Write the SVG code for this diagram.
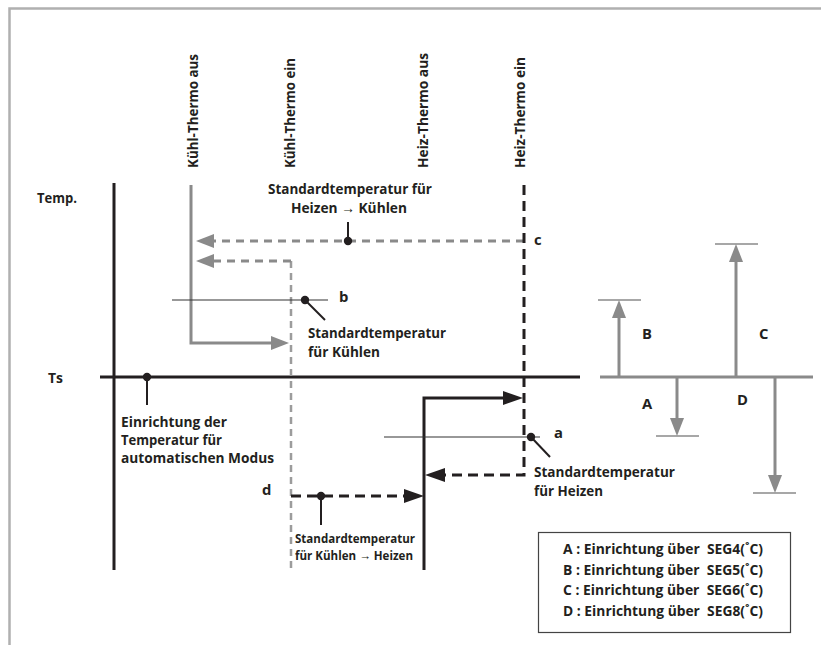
<svg xmlns="http://www.w3.org/2000/svg" width="821" height="645" viewBox="0 0 821 645">
<defs>
<style>
text{font-family:"Open Sans","Liberation Sans",sans-serif;font-weight:700;font-size:14.8px;fill:#231f20}
.sm{font-size:13px}
.md{font-size:14px}
.vt{font-size:14.8px}
.g{stroke:#8a8a8a;stroke-width:3;fill:none}
.gd{stroke:#8a8a8a;stroke-width:3;fill:none;stroke-dasharray:8 6}
.gdl{stroke:#9c9c9c;stroke-width:2.5;fill:none;stroke-dasharray:7 5}
.k{stroke:#231f20;stroke-width:3;fill:none}
.kd{stroke:#231f20;stroke-width:3;fill:none;stroke-dasharray:10 6}
.thin{stroke:#333;stroke-width:1.2;fill:none}
.lead{stroke:#231f20;stroke-width:2;fill:none}
.cap{stroke:#8a8a8a;stroke-width:1.6;fill:none}
.dot{fill:#231f20}
</style>
<marker id="ag" markerUnits="userSpaceOnUse" markerWidth="19" markerHeight="15" refX="0" refY="7" orient="auto" viewBox="0 0 19 14"><path d="M0,0 L18,7 L0,14 z" fill="#8a8a8a"/></marker>
<marker id="ak" markerUnits="userSpaceOnUse" markerWidth="21" markerHeight="15" refX="0" refY="7" orient="auto" viewBox="0 0 21 14"><path d="M0,0 L20,7 L0,14 z" fill="#231f20"/></marker>
</defs>

<!-- frame -->
<path d="M9.5 645 V8.5 H821" fill="none" stroke="#b0b0b0" stroke-width="2.5"/>

<!-- axes -->
<g id="axes">
<line x1="114" y1="183" x2="114" y2="570" class="k"/>
<line x1="100" y1="377" x2="580" y2="377" class="k"/>
<text x="37" y="203" textLength="40" lengthAdjust="spacingAndGlyphs">Temp.</text>
<text x="48" y="383" textLength="15" lengthAdjust="spacingAndGlyphs">Ts</text>
</g>

<!-- vertical labels -->
<g id="label-kuehl-aus"><text class="vt" transform="translate(198,168) rotate(-90)" textLength="114" lengthAdjust="spacingAndGlyphs">Kühl-Thermo aus</text></g>
<g id="label-kuehl-ein"><text class="vt" transform="translate(295,168) rotate(-90)" textLength="110" lengthAdjust="spacingAndGlyphs">Kühl-Thermo ein</text></g>
<g id="label-heiz-aus"><text class="vt" transform="translate(428,168) rotate(-90)" textLength="115" lengthAdjust="spacingAndGlyphs">Heiz-Thermo aus</text></g>
<g id="label-heiz-ein"><text class="vt" transform="translate(525,168) rotate(-90)" textLength="111" lengthAdjust="spacingAndGlyphs">Heiz-Thermo ein</text></g>

<!-- connectors -->
<g id="connectors">
<path d="M191 185 V343 H271" class="g" marker-end="url(#ag)"/>
<line x1="291" y1="261" x2="291" y2="570" class="gdl"/>
<path d="M291 261 H214" class="gd" marker-end="url(#ag)"/>
<path d="M524 241 H214" class="gd" marker-end="url(#ag)"/>
<path d="M524 185 V475 H445" class="kd" marker-end="url(#ak)"/>
<path d="M424 570 V398 H503" class="k" marker-end="url(#ak)"/>
<path d="M291 496 H404" class="kd" marker-end="url(#ak)"/>
<line x1="172" y1="300" x2="328" y2="300" class="thin"/>
<line x1="384" y1="437" x2="540" y2="437" class="thin"/>
</g>

<!-- annotation nodes -->
<g id="node-ts-setting">
<circle cx="147" cy="377" r="4.2" class="dot"/>
<line x1="147" y1="377" x2="147" y2="405" class="lead"/>
<text class="md" x="121" y="427" textLength="106" lengthAdjust="spacingAndGlyphs">Einrichtung der</text>
<text class="md" x="121" y="445" textLength="101" lengthAdjust="spacingAndGlyphs">Temperatur für</text>
<text class="md" x="121" y="463" textLength="153" lengthAdjust="spacingAndGlyphs">automatischen Modus</text>
</g>

<g id="node-c">
<circle cx="348" cy="241" r="4.2" class="dot"/>
<line x1="348" y1="241" x2="348" y2="222" class="lead"/>
<text x="268" y="194" textLength="164" lengthAdjust="spacingAndGlyphs">Standardtemperatur für</text>
<text x="291" y="213" textLength="116" lengthAdjust="spacingAndGlyphs">Heizen → Kühlen</text>
<text x="534" y="245">c</text>
</g>

<g id="node-b">
<circle cx="305" cy="300" r="4.2" class="dot"/>
<line x1="305" y1="300" x2="325" y2="320" class="lead"/>
<text x="339" y="302">b</text>
<text x="308" y="338" textLength="138" lengthAdjust="spacingAndGlyphs">Standardtemperatur</text>
<text x="308" y="357" textLength="72" lengthAdjust="spacingAndGlyphs">für Kühlen</text>
</g>

<g id="node-a">
<circle cx="531" cy="437" r="4.2" class="dot"/>
<line x1="531" y1="437" x2="550" y2="457" class="lead"/>
<text x="554" y="438">a</text>
<text x="534" y="477" textLength="141" lengthAdjust="spacingAndGlyphs">Standardtemperatur</text>
<text x="534" y="496" textLength="69" lengthAdjust="spacingAndGlyphs">für Heizen</text>
</g>

<g id="node-d">
<circle cx="321" cy="496" r="4.2" class="dot"/>
<line x1="321" y1="496" x2="321" y2="525" class="lead"/>
<text x="262" y="495">d</text>
<text class="sm" x="295" y="543" textLength="120" lengthAdjust="spacingAndGlyphs">Standardtemperatur</text>
<text class="sm" x="295" y="560" textLength="118" lengthAdjust="spacingAndGlyphs">für Kühlen → Heizen</text>
</g>

<!-- right offset diagram -->
<g id="offset-diagram">
<line x1="600" y1="377" x2="813" y2="377" class="g"/>
<line x1="619" y1="377" x2="619" y2="318" class="g" marker-end="url(#ag)"/>
<line x1="598" y1="300" x2="641" y2="300" class="cap"/>
<line x1="736" y1="377" x2="736" y2="262" class="g" marker-end="url(#ag)"/>
<line x1="715" y1="244" x2="758" y2="244" class="cap"/>
<line x1="677" y1="377" x2="677" y2="418" class="g" marker-end="url(#ag)"/>
<line x1="656" y1="436" x2="699" y2="436" class="cap"/>
<line x1="775" y1="377" x2="775" y2="475" class="g" marker-end="url(#ag)"/>
<line x1="753" y1="493" x2="796" y2="493" class="cap"/>
<text x="642" y="339">B</text>
<text x="759" y="339">C</text>
<text x="642" y="409">A</text>
<text x="737" y="405">D</text>
</g>

<!-- legend -->
<g id="legend">
<rect x="538.5" y="532.5" width="252" height="100" fill="#fff" stroke="#444" stroke-width="1.2"/>
<text x="563" y="554" xml:space="preserve" textLength="200" lengthAdjust="spacingAndGlyphs">A : Einrichtung über  SEG4(˚C)</text>
<text x="563" y="574.5" xml:space="preserve" textLength="200" lengthAdjust="spacingAndGlyphs">B : Einrichtung über  SEG5(˚C)</text>
<text x="563" y="595" xml:space="preserve" textLength="200" lengthAdjust="spacingAndGlyphs">C : Einrichtung über  SEG6(˚C)</text>
<text x="563" y="615.5" xml:space="preserve" textLength="200" lengthAdjust="spacingAndGlyphs">D : Einrichtung über  SEG8(˚C)</text>
</g>
</svg>
